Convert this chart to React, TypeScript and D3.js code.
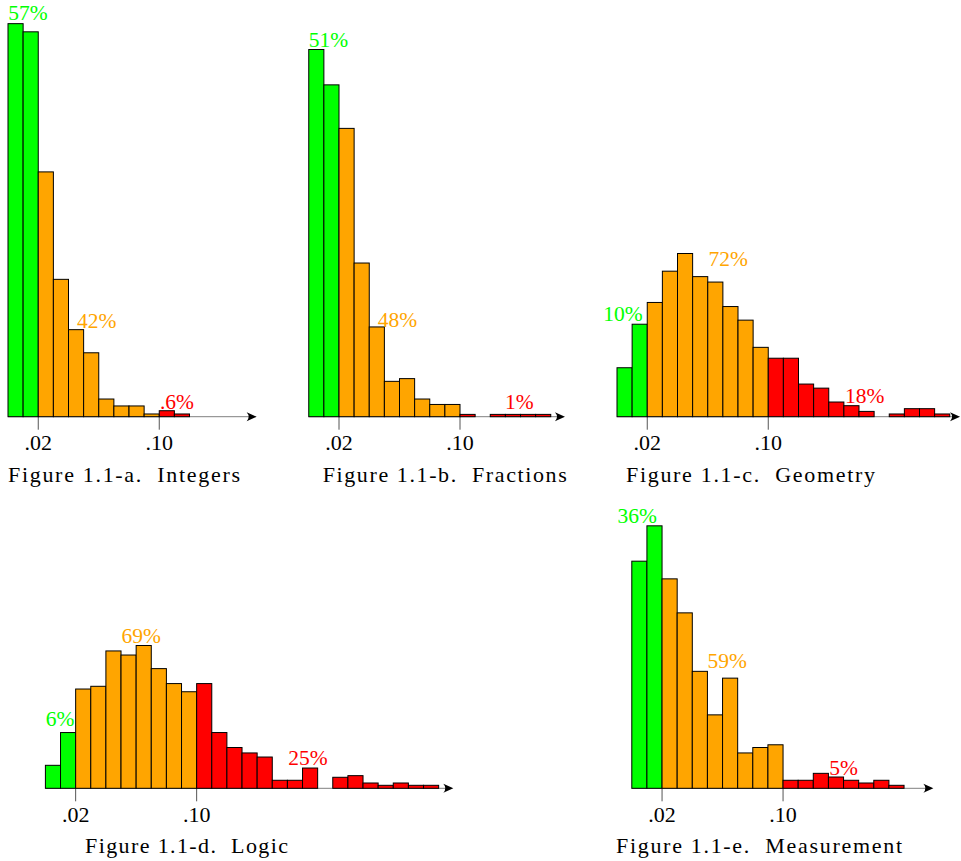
import React from "react";
import * as d3 from "d3";

// ---- data (percent of items per .01-wide error bin) ----
const integersValues = [28.9, 28.3, 18.0, 10.1, 6.4, 4.7, 1.3, 0.79, 0.79, 0.2, 0.44, 0.2];
const fractionsValues = [27.0, 24.4, 21.2, 11.3, 6.6, 2.6, 2.8, 1.3, 0.9, 0.9, 0.17, 0, 0.17, 0.17, 0.17, 0.17];
const geometryValues = [3.6, 6.8, 8.4, 10.7, 12.0, 10.3, 9.9, 8.1, 7.1, 5.1, 4.3, 4.3, 2.4, 2.1, 1.08, 0.81, 0.39, 0, 0.2, 0.59, 0.59, 0.2];
const logicValues = [1.69, 4.1, 7.3, 7.5, 10.1, 9.8, 10.5, 8.8, 7.7, 7.1, 7.7, 4.1, 3.0, 2.6, 2.3, 0.59, 0.59, 1.49, 0, 0.81, 0.93, 0.39, 0.22, 0.39, 0.22, 0.22];
const measurementValues = [16.7, 19.3, 15.4, 12.9, 8.6, 5.4, 8.1, 2.6, 3.0, 3.2, 0.59, 0.59, 1.1, 0.83, 0.59, 0.39, 0.59, 0.22];

const binWidth = 0.01;
const tickValues = [0.02, 0.1];
const tickLabels = [".02", ".10"];
const zoneLimits = [0.02, 0.1]; // green below .02, orange below .10, red above

const captions = [
  "Figure 1.1-a.  Integers",
  "Figure 1.1-b.  Fractions",
  "Figure 1.1-c.  Geometry",
  "Figure 1.1-d.  Logic",
  "Figure 1.1-e.  Measurement",
];

// share labels: [text, x position (error value), y value (percent), zone]
const integersLabels: [string, number, number, number][] = [["57%", 0.0132, 29.2, 0], ["42%", 0.0586, 6.5, 1], [".6%", 0.1117, 0.57, 2]];
const fractionsLabels: [string, number, number, number][] = [["51%", 0.0131, 27.2, 0], ["48%", 0.0587, 6.62, 1], ["1%", 0.1393, 0.54, 2]];
const geometryLabels: [string, number, number, number][] = [["10%", 0.004, 7.06, 0], ["72%", 0.0735, 11.08, 1], ["18%", 0.1638, 1.03, 2]];
const logicLabels: [string, number, number, number][] = [["6%", 0.0097, 4.6, 0], ["69%", 0.0634, 10.7, 1], ["25%", 0.1736, 1.71, 2]];
const measurementLabels: [string, number, number, number][] = [["36%", 0.0036, 19.49, 0], ["59%", 0.0631, 8.82, 1], ["5%", 0.14, 0.98, 2]];

const zoneColors = ["#00ff00", "#ffa500", "#ff0000"];

// ---- layout ----
const PX_PER_UNIT = 1512.5; // px per unit of error (15.125 px per bin)
const PX_PER_PCT = 13.6;
const FONT = "Liberation Serif, DejaVu Serif, serif";

type PanelProps = {
  values: number[];
  labels: [string, number, number, number][];
  x0: number;
  base: number;
  axisMax: number;
  caption: string;
  capX: number;
  capY: number;
  capW: number;
};

function zoneOf(v: number) {
  if (v < zoneLimits[0] - 1e-9) return 0;
  if (v < zoneLimits[1] - 1e-9) return 1;
  return 2;
}

function Panel({ values, labels, x0, base, axisMax, caption, capX, capY, capW }: PanelProps) {
  const x = d3.scaleLinear().domain([0, axisMax]).range([x0, x0 + axisMax * PX_PER_UNIT]);
  const y = d3.scaleLinear().domain([0, 30]).range([base, base - 30 * PX_PER_PCT]);
  const tip = x(axisMax);
  const arrow = d3.path();
  arrow.moveTo(tip, base);
  arrow.lineTo(tip - 10, base - 4.5);
  arrow.quadraticCurveTo(tip - 6, base, tip - 10, base + 4.5);
  arrow.closePath();
  return (
    <g>
      <line x1={x(0)} x2={tip - 4} y1={base} y2={base} stroke="#808080" strokeWidth={1} />
      <path d={arrow.toString()} fill="#000" />
      {tickValues.map((t, i) => (
        <g key={i}>
          <line x1={x(t)} x2={x(t)} y1={base} y2={base + 13} stroke="#555" strokeWidth={1} />
          <text x={x(t)} y={base + 33.3} textAnchor="middle" fontSize={22} fill="#000">
            {tickLabels[i]}
          </text>
        </g>
      ))}
      {values.map((v, i) =>
        v > 0 ? (
          <rect
            key={i}
            x={x(i * binWidth)}
            y={y(v)}
            width={x((i + 1) * binWidth) - x(i * binWidth)}
            height={base - y(v)}
            fill={zoneColors[zoneOf(i * binWidth)]}
            stroke="#000"
            strokeWidth={1}
          />
        ) : null
      )}
      {labels.map(([t, lx, ly, z], i) => (
        <text key={i} x={x(lx)} y={y(ly)} textAnchor="middle" fontSize={21.5} fill={zoneColors[z]}>
          {t}
        </text>
      ))}
      <text x={capX} y={capY} fontSize={22} fill="#000" textLength={capW} lengthAdjust="spacing" style={{ whiteSpace: "pre" }}>
        {caption}
      </text>
    </g>
  );
}

export default function App() {
  return (
    <svg width={961} height={861} fontFamily={FONT} style={{ position: "absolute", left: 0, top: 0, background: "#fff", fontFamily: FONT }}>
      <Panel values={integersValues} labels={integersLabels} x0={8} base={416.7} axisMax={0.1644} caption={captions[0]} capX={8} capY={481.7} capW={232} />
      <Panel values={fractionsValues} labels={fractionsLabels} x0={308.75} base={416.7} axisMax={0.1694} caption={captions[1]} capX={322.7} capY={481.7} capW={244} />
      <Panel values={geometryValues} labels={geometryLabels} x0={617} base={416.7} axisMax={0.2268} caption={captions[2]} capX={626} capY={481.7} capW={249} />
      <Panel values={logicValues} labels={logicLabels} x0={45.4} base={788.3} axisMax={0.2697} caption={captions[3]} capX={85} capY={853} capW={203} />
      <Panel values={measurementValues} labels={measurementLabels} x0={631.8} base={788.3} axisMax={0.1994} caption={captions[4]} capX={616} capY={853} capW={286} />
    </svg>
  );
}
